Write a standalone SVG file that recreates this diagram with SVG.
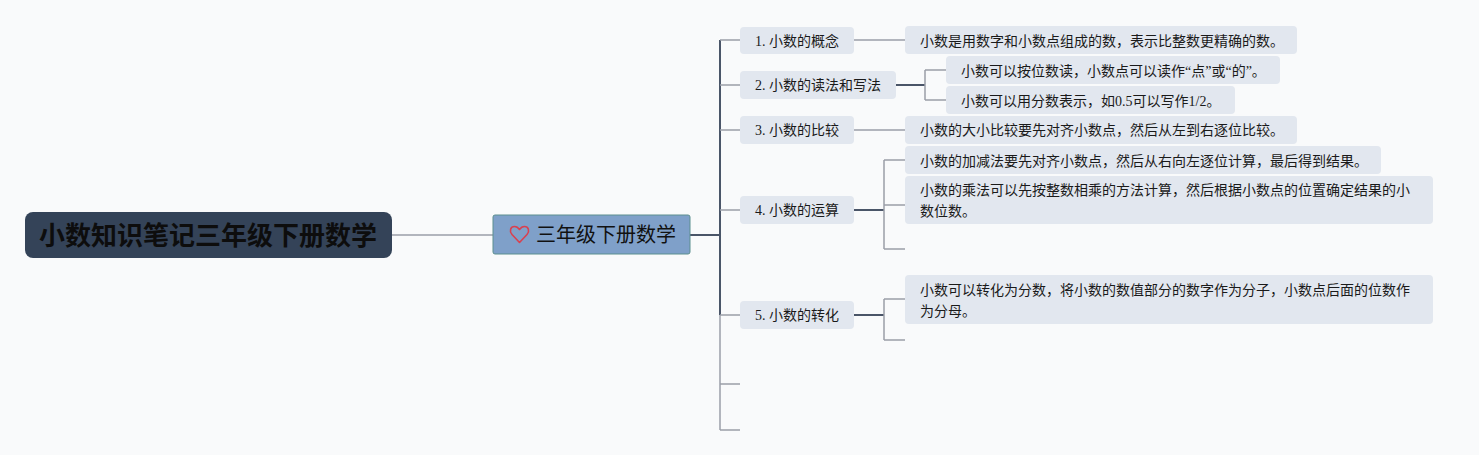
<svg xmlns="http://www.w3.org/2000/svg" width="1479" height="455" viewBox="0 0 1479 455">
<style>
.bg{fill:#f9fafb}
.t{font-family:"Liberation Serif","Noto Sans CJK SC",serif;font-size:14px;fill:#1a1a1a}
.n2{fill:#e2e7ef}
.lf{fill:#e2e7ef}
.lg{stroke:#9a9ea8;stroke-width:1.5;fill:none}
.ld{stroke:#4a5568;stroke-width:2;fill:none}
</style>
<rect class="bg" x="0" y="0" width="1479" height="455"/>
<g id="connectors">
<path class="lg" d="M392 235H493"/>
<path class="ld" d="M690 235H720"/>
<path class="ld" d="M720 40V315"/>
<path class="lg" d="M720 315V430"/>
<path class="lg" d="M720 40H740M720 85H740M720 130H740M720 210H740M720 315H740M720 384H740M720 430H740"/>
<path class="lg" d="M854 40H905"/>
<path class="ld" d="M896 85H925"/>
<path class="lg" d="M925 70V100M925 70H946M925 100H946"/>
<path class="lg" d="M854 130H905"/>
<path class="ld" d="M854 210H884"/>
<path class="lg" d="M884 160V249M884 160H905M884 205H905M884 249H905"/>
<path class="ld" d="M854 315H884"/>
<path class="lg" d="M884 299V340M884 299H905M884 340H905"/>
</g>
<g id="root">
<rect x="25" y="212" width="367" height="46" rx="8" fill="#344358"/>
<text x="208" y="245" text-anchor="middle" font-family="'Liberation Sans','Noto Sans CJK SC',sans-serif" font-size="26" font-weight="bold" fill="#0d0d0d">小数知识笔记三年级下册数学</text>
</g>
<g id="branch">
<rect x="493" y="215" width="197" height="39" rx="2" fill="#7fa0c9" stroke="#5d8f8f" stroke-width="1"/>
<path d="M519.5 242.5 L512 234.5 C509 231 510.5 226.5 514.5 226.5 C517 226.5 518.5 228 519.5 229.5 C520.5 228 522 226.5 524.5 226.5 C528.5 226.5 530 231 527 234.5 Z" fill="none" stroke="#d9404f" stroke-width="1.6" stroke-linejoin="round"/>
<text x="536" y="242" font-family="'Noto Sans CJK SC',sans-serif" font-size="20" fill="#111">三年级下册数学</text>
</g>
<g id="n1">
<rect class="n2" x="740" y="27" width="114" height="27" rx="4"/>
<text class="t" x="755" y="46">1. 小数的概念</text>
</g>
<g id="n1a">
<rect class="lf" x="905" y="26" width="392" height="28" rx="4"/>
<text class="t" x="920" y="46">小数是用数字和小数点组成的数，表示比整数更精确的数。</text>
</g>
<g id="n2">
<rect class="n2" x="740" y="71" width="156" height="28" rx="4"/>
<text class="t" x="755" y="90">2. 小数的读法和写法</text>
</g>
<g id="n2a">
<rect class="lf" x="946" y="56" width="334" height="28" rx="4"/>
<text class="t" x="961" y="76">小数可以按位数读，小数点可以读作“点”或“的”。</text>
</g>
<g id="n2b">
<rect class="lf" x="946" y="86" width="289" height="28" rx="4"/>
<text class="t" x="961" y="106">小数可以用分数表示，如0.5可以写作1/2。</text>
</g>
<g id="n3">
<rect class="n2" x="740" y="116" width="114" height="28" rx="4"/>
<text class="t" x="755" y="135">3. 小数的比较</text>
</g>
<g id="n3a">
<rect class="lf" x="905" y="116" width="392" height="28" rx="4"/>
<text class="t" x="920" y="135">小数的大小比较要先对齐小数点，然后从左到右逐位比较。</text>
</g>
<g id="n4">
<rect class="n2" x="740" y="196" width="114" height="28" rx="4"/>
<text class="t" x="755" y="215">4. 小数的运算</text>
</g>
<g id="n4a">
<rect class="lf" x="905" y="146" width="476" height="28" rx="4"/>
<text class="t" x="920" y="166">小数的加减法要先对齐小数点，然后从右向左逐位计算，最后得到结果。</text>
</g>
<g id="n4b">
<rect class="lf" x="905" y="176" width="528" height="48" rx="4"/>
<text class="t" x="920" y="195">小数的乘法可以先按整数相乘的方法计算，然后根据小数点的位置确定结果的小</text>
<text class="t" x="920" y="216">数位数。</text>
</g>
<g id="n5">
<rect class="n2" x="740" y="301" width="114" height="28" rx="4"/>
<text class="t" x="755" y="320">5. 小数的转化</text>
</g>
<g id="n5a">
<rect class="lf" x="905" y="275" width="528" height="49" rx="4"/>
<text class="t" x="920" y="295">小数可以转化为分数，将小数的数值部分的数字作为分子，小数点后面的位数作</text>
<text class="t" x="920" y="316">为分母。</text>
</g>
</svg>
